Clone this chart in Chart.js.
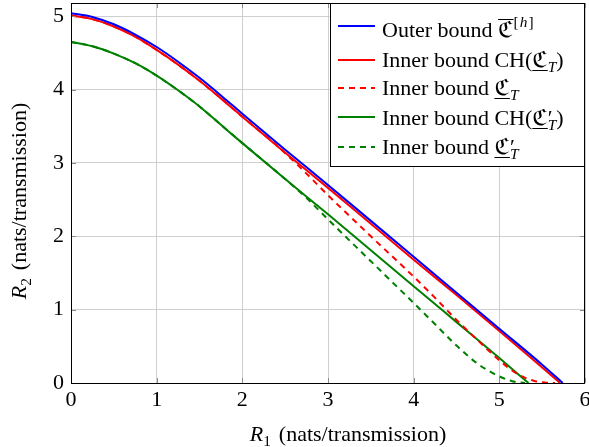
<!DOCTYPE html>
<html>
<head>
<meta charset="utf-8">
<script src="https://cdn.jsdelivr.net/npm/chart.js@4.4.1/dist/chart.umd.min.js"></script>
<style>
  html, body { margin: 0; padding: 0; background: #fff; }
  #chart { display: block; }
</style>
</head>
<body>
<canvas id="chart" width="589" height="447"></canvas>
<script>
// rate pairs (R1, R2) in nats/transmission
const outerR1 = [0, 0.25, 0.5, 0.75, 1, 1.25, 1.5, 1.75, 2, 2.5, 3, 3.5, 4, 4.5, 5, 5.5, 5.74];
const outerR2 = [5.04, 4.99, 4.89, 4.75, 4.58, 4.38, 4.16, 3.92, 3.67, 3.18, 2.70, 2.21, 1.72, 1.23, 0.74, 0.25, 0];

const innerChR1 = [0, 0.25, 0.5, 0.75, 1, 1.25, 1.5, 1.75, 2, 2.5, 3, 3.5, 4, 4.5, 5, 5.5, 5.71];
const innerChR2 = [5.01, 4.96, 4.86, 4.72, 4.54, 4.34, 4.12, 3.88, 3.63, 3.14, 2.66, 2.17, 1.68, 1.20, 0.71, 0.21, 0];

const innerR1 = [0, 0.25, 0.5, 0.75, 1, 1.25, 1.5, 1.75, 2, 2.4, 2.7, 3, 3.5, 4, 4.25, 4.5, 4.75, 5, 5.2, 5.4, 5.55, 5.65];
const innerR2 = [5.01, 4.96, 4.86, 4.72, 4.54, 4.34, 4.12, 3.88, 3.63, 3.24, 2.91, 2.56, 2.00, 1.45, 1.16, 0.86, 0.58, 0.31, 0.13, 0.03, 0.005, 0];

const innerChPrimeR1 = [0, 0.25, 0.5, 0.75, 1, 1.25, 1.5, 1.75, 2, 2.5, 3, 3.5, 4, 4.5, 5, 5.34];
const innerChPrimeR2 = [4.65, 4.59, 4.49, 4.36, 4.19, 3.99, 3.77, 3.52, 3.27, 2.78, 2.30, 1.81, 1.32, 0.83, 0.34, 0];

const innerPrimeR1 = [0, 0.25, 0.5, 0.75, 1, 1.25, 1.5, 1.75, 2, 2.5, 2.75, 3, 3.5, 4, 4.25, 4.5, 4.75, 5, 5.15, 5.3];
const innerPrimeR2 = [4.65, 4.59, 4.49, 4.36, 4.19, 3.99, 3.77, 3.52, 3.27, 2.78, 2.52, 2.23, 1.66, 1.09, 0.80, 0.51, 0.26, 0.09, 0.025, 0];

const xTicks = [0, 1, 2, 3, 4, 5, 6];
const yTicks = [0, 1, 2, 3, 4, 5];

const SERIF = "'Liberation Serif', 'Times New Roman', serif";
const FRAK = "'DejaVu Serif', 'DejaVu Sans', serif";
const BASE = 22;

// small helpers for the rich (math-like) labels
const rm = (t, o) => Object.assign({ t }, o);
const it = (t, o) => Object.assign({ t, it: true }, o);
const frak = (t, o) => Object.assign({ t, fam: FRAK }, o);
const sub = (t, o) => Object.assign({ t, it: true, small: true, dy: 5 }, o);
const sup = (t, o) => Object.assign({ t, small: true, dy: -10 }, o);
const prime = () => ({ t: '′', noAdvance: true });

const legendLabels = [
    [rm('Outer bound '), frak('ℭ', { over: true }), sup('[', { gap: 1 }), sup('h', { it: true, gap: 1 }), sup(']')],
    [rm('Inner bound CH('), frak('ℭ', { under: true }), sub('T'), rm(')')],
    [rm('Inner bound '), frak('ℭ', { under: true }), sub('T')],
    [rm('Inner bound CH('), frak('ℭ', { under: true }), prime(), sub('T'), rm(')')],
    [rm('Inner bound '), frak('ℭ', { under: true }), prime(), sub('T')]
];

function pts(xs, ys) {
    return xs.map((x, i) => ({ x: x, y: ys[i] }));
}

function segFont(s, base) {
    const size = s.small ? base * 0.7 : base;
    return (s.it ? 'italic ' : '') + size + 'px ' + (s.fam || SERIF);
}

function richWidth(ctx, segs, base) {
    let w = 0;
    segs.forEach(s => {
        ctx.font = segFont(s, base);
        if (!s.noAdvance) w += ctx.measureText(s.t).width + (s.gap || 0);
    });
    return w;
}

function drawRich(ctx, segs, x, y, base) {
    let cx = x;
    segs.forEach(s => {
        ctx.font = segFont(s, base);
        const w = ctx.measureText(s.t).width;
        ctx.fillText(s.t, cx, y + (s.dy || 0));
        ctx.lineWidth = 1;
        if (s.over) {
            ctx.beginPath();
            ctx.moveTo(cx, y - 17.5);
            ctx.lineTo(cx + w, y - 17.5);
            ctx.stroke();
        }
        if (s.under) {
            ctx.beginPath();
            ctx.moveTo(cx, y + 3.5);
            ctx.lineTo(cx + w, y + 3.5);
            ctx.stroke();
        }
        if (!s.noAdvance) cx += w + (s.gap || 0);
    });
}

// frame, inner tick marks, axis titles and the legend box
const framePlugin = {
    id: 'frame',
    afterDatasetsDraw(chart) {
        const { ctx, chartArea: a, scales } = chart;
        ctx.save();
        ctx.strokeStyle = '#8c8c8c';
        ctx.lineWidth = 1;
        xTicks.forEach(v => {
            const px = Math.round(scales.x.getPixelForValue(v)) + 0.5;
            ctx.beginPath();
            ctx.moveTo(px, a.bottom); ctx.lineTo(px, a.bottom - 5);
            ctx.moveTo(px, a.top); ctx.lineTo(px, a.top + 5);
            ctx.stroke();
        });
        yTicks.forEach(v => {
            const py = Math.round(scales.y.getPixelForValue(v)) + 0.5;
            ctx.beginPath();
            ctx.moveTo(a.left, py); ctx.lineTo(a.left + 5, py);
            ctx.moveTo(a.right, py); ctx.lineTo(a.right - 5, py);
            ctx.stroke();
        });
        ctx.strokeStyle = '#000';
        ctx.strokeRect(Math.round(a.left) + 0.5, Math.round(a.top) + 0.5,
            Math.round(a.right - a.left) - 1, Math.round(a.bottom - a.top));

        // axis titles
        ctx.fillStyle = '#000';
        ctx.strokeStyle = '#000';
        ctx.textBaseline = 'alphabetic';
        ctx.textAlign = 'left';
        const xTitle = [it('R'), sub('1', { it: false, gap: 8 }), rm('(nats/transmission)')];
        const yTitle = [it('R'), sub('2', { it: false, gap: 8 }), rm('(nats/transmission)')];
        const wx = richWidth(ctx, xTitle, BASE);
        drawRich(ctx, xTitle, 348 - wx / 2, 441, BASE);
        const wy = richWidth(ctx, yTitle, BASE);
        ctx.translate(26, 201);
        ctx.rotate(-Math.PI / 2);
        drawRich(ctx, yTitle, -wy / 2, 0, BASE);
        ctx.restore();
    },
    afterDraw(chart) {
        const ctx = chart.ctx;
        const box = { x: 330.5, y: 3.5, w: 254, h: 163 };
        const lineY = [26, 60, 88, 117, 147];
        const baseY = [37, 67, 95, 125, 154];
        ctx.save();
        ctx.fillStyle = '#fff';
        ctx.fillRect(box.x, box.y, box.w, box.h);
        ctx.strokeStyle = '#000';
        ctx.lineWidth = 1;
        ctx.strokeRect(box.x, box.y, box.w, box.h);
        chart.data.datasets.forEach((ds, i) => {
            ctx.strokeStyle = ds.borderColor;
            ctx.lineWidth = ds.borderWidth;
            ctx.setLineDash(ds.borderDash || []);
            ctx.beginPath();
            ctx.moveTo(338, lineY[i]);
            ctx.lineTo(375, lineY[i]);
            ctx.stroke();
            ctx.setLineDash([]);
            ctx.fillStyle = '#000';
            ctx.strokeStyle = '#000';
            ctx.textAlign = 'left';
            ctx.textBaseline = 'alphabetic';
            drawRich(ctx, legendLabels[i], 382, baseY[i], BASE);
        });
        ctx.restore();
    }
};

function series(xs, ys, color, dashed) {
    return {
        data: pts(xs, ys),
        borderColor: color,
        borderWidth: 2,
        borderDash: dashed ? [6, 5] : [],
        pointRadius: 0,
        fill: false,
        cubicInterpolationMode: 'monotone'
    };
}

new Chart(document.getElementById('chart'), {
    type: 'line',
    data: {
        datasets: [
            series(outerR1, outerR2, '#0000ff', false),
            series(innerChR1, innerChR2, '#ff0000', false),
            series(innerR1, innerR2, '#ff0000', true),
            series(innerChPrimeR1, innerChPrimeR2, '#008000', false),
            series(innerPrimeR1, innerPrimeR2, '#008000', true)
        ]
    },
    options: {
        responsive: false,
        animation: false,
        layout: { padding: { top: 3, right: 4, left: 0, bottom: 0 } },
        plugins: { legend: { display: false }, tooltip: { enabled: false } },
        scales: {
            x: {
                type: 'linear',
                min: 0,
                max: 6,
                afterFit: s => { s.height = 64; s.paddingLeft = 0; s.paddingRight = 0; },
                afterBuildTicks: s => { s.ticks = xTicks.map(v => ({ value: v })); },
                ticks: { font: { family: SERIF, size: BASE }, color: '#000', padding: 4 },
                grid: { color: '#cfcfcf', drawTicks: false },
                border: { display: false }
            },
            y: {
                type: 'linear',
                min: 0,
                max: 5.18,
                afterFit: s => { s.width = 71; s.paddingTop = 0; s.paddingBottom = 0; },
                afterBuildTicks: s => { s.ticks = yTicks.map(v => ({ value: v })); },
                ticks: { font: { family: SERIF, size: BASE }, color: '#000', padding: 7 },
                grid: { color: '#cfcfcf', drawTicks: false },
                border: { display: false }
            }
        }
    },
    plugins: [framePlugin]
});
</script>
</body>
</html>
